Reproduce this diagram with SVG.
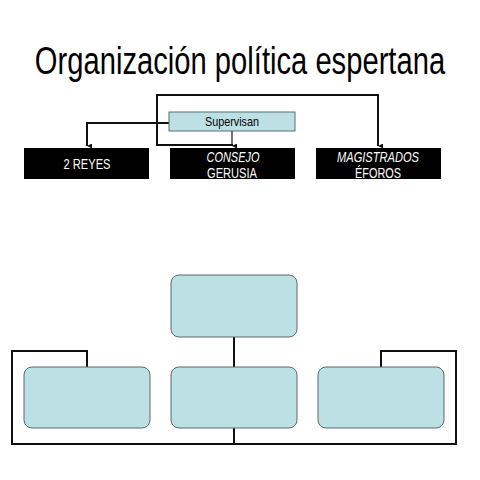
<svg xmlns="http://www.w3.org/2000/svg" width="480" height="480" viewBox="0 0 480 480">
<defs>
<style>
.t{font-family:"Liberation Sans",Arial,sans-serif;}
.blk{fill:#000;}
.wt{fill:#fff;font-size:15px;text-anchor:middle;}
.lb{fill:#bce0e3;stroke:#5a6a6c;stroke-width:1;}
.ln{fill:none;stroke:#111;stroke-width:2;}
.thin{fill:none;stroke:#111;stroke-width:1.2;}
</style>
<marker id="ar" viewBox="0 0 6 6" refX="3" refY="6" markerWidth="5" markerHeight="5" orient="auto-start-reverse" markerUnits="userSpaceOnUse">
<path d="M0,0 L3,6 L6,0 Z" fill="#111"/>
</marker>
</defs>
<rect width="480" height="480" fill="#fff"/>
<g id="title" transform="translate(240,74) scale(0.78,1)">
<text class="t" x="0" y="0" font-size="39" text-anchor="middle" textLength="526" lengthAdjust="spacingAndGlyphs" fill="#000">Organización política espertana</text>
</g>

<g id="connectors">
<path class="ln" d="M232,145 H157 V95 H378 V146" marker-end="url(#ar)"/>
<path class="ln" d="M157,145 H232 V146" marker-end="url(#ar)"/>
<path class="thin" d="M232,131 V145"/>
<path class="ln" d="M169,123 H87 V146" marker-end="url(#ar)"/>
<path class="ln" d="M234,337 V367"/>
<path class="ln" d="M87,367 V351 H12 V444 H456 V351 H381 V367"/>
<path class="ln" d="M234,428 V444"/>
</g>

<g id="supervisan">
<rect class="lb" x="169" y="112" width="126" height="19"/>
<text class="t" x="232" y="126" font-size="13" text-anchor="middle" textLength="54" lengthAdjust="spacingAndGlyphs" fill="#000">Supervisan</text>
</g>
<g id="reyes">
<rect class="blk" x="24" y="148" width="125" height="31"/>
<text class="t wt" x="87" y="169" textLength="47" lengthAdjust="spacingAndGlyphs">2 REYES</text>
</g>
<g id="consejo">
<rect class="blk" x="170" y="148" width="125" height="31"/>
<text class="t wt" x="233" y="162" font-style="italic" textLength="53" lengthAdjust="spacingAndGlyphs">CONSEJO</text>
<text class="t wt" x="232" y="178" textLength="50" lengthAdjust="spacingAndGlyphs">GERUSIA</text>
</g>
<g id="magistrados">
<rect class="blk" x="316" y="148" width="125" height="31"/>
<text class="t wt" x="378" y="162" font-style="italic" textLength="82" lengthAdjust="spacingAndGlyphs">MAGISTRADOS</text>
<text class="t wt" x="378" y="178" textLength="46" lengthAdjust="spacingAndGlyphs">ÉFOROS</text>
</g>

<g id="box-top"><rect class="lb" x="171" y="275" width="126" height="62" rx="8"/></g>
<g id="box-left"><rect class="lb" x="24" y="367" width="126" height="61" rx="8"/></g>
<g id="box-mid"><rect class="lb" x="171" y="367" width="126" height="61" rx="8"/></g>
<g id="box-right"><rect class="lb" x="318" y="367" width="126" height="61" rx="8"/></g>
</svg>
